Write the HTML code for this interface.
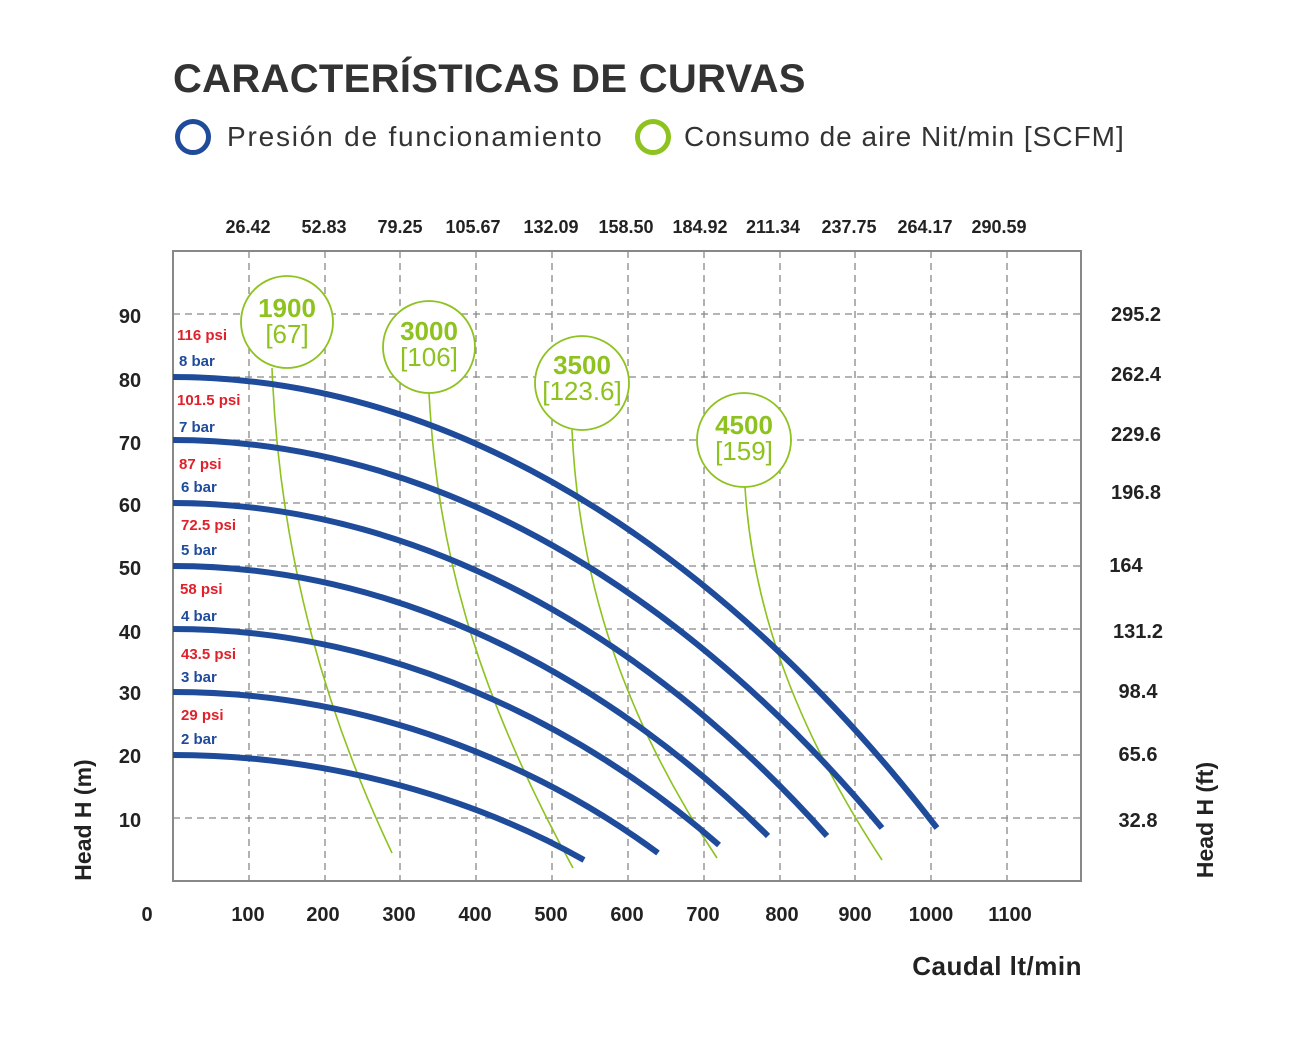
<!DOCTYPE html>
<html><head><meta charset="utf-8"><style>
html,body{margin:0;padding:0;background:#fff;}
svg{display:block;font-family:"Liberation Sans",Arial,sans-serif;}
</style></head><body>
<svg width="1291" height="1039" viewBox="0 0 1291 1039" xmlns="http://www.w3.org/2000/svg">
<text x="173" y="92" font-size="40" font-weight="bold" fill="#333" letter-spacing="0.3">CARACTERÍSTICAS DE CURVAS</text>
<circle cx="193" cy="137" r="15.5" fill="none" stroke="#1f4b9b" stroke-width="5"/>
<text x="227" y="146" font-size="28" fill="#333" letter-spacing="1.8">Presión de funcionamiento</text>
<circle cx="653" cy="137" r="15.5" fill="none" stroke="#8dc21f" stroke-width="5"/>
<text x="684" y="146" font-size="28" fill="#333" letter-spacing="1">Consumo de aire Nit/min [SCFM]</text>

<g font-size="18" font-weight="bold" fill="#222" text-anchor="middle">
<text x="248" y="233">26.42</text><text x="324" y="233">52.83</text><text x="400" y="233">79.25</text>
<text x="473" y="233">105.67</text><text x="551" y="233">132.09</text><text x="626" y="233">158.50</text>
<text x="700" y="233">184.92</text><text x="773" y="233">211.34</text><text x="849" y="233">237.75</text>
<text x="925" y="233">264.17</text><text x="999" y="233">290.59</text>
</g>

<g stroke="#888" stroke-width="1.3" stroke-dasharray="7,5" fill="none">
<path d="M249 251V881M325 251V881M400 251V881M476 251V881M552 251V881M628 251V881M704 251V881M780 251V881M855 251V881M931 251V881M1007 251V881"/>
<path d="M173 314H1081M173 377H1081M173 440H1081M173 503H1081M173 566H1081M173 629H1081M173 692H1081M173 755H1081M173 818H1081"/>
</g>
<rect x="173" y="251" width="908" height="630" fill="none" stroke="#888" stroke-width="2"/>

<g font-size="20" font-weight="bold" fill="#222" text-anchor="middle">
<text x="130" y="323">90</text><text x="130" y="387">80</text><text x="130" y="450">70</text>
<text x="130" y="512">60</text><text x="130" y="575">50</text><text x="130" y="639">40</text>
<text x="130" y="700">30</text><text x="130" y="763">20</text><text x="130" y="827">10</text>
<text x="1136" y="321">295.2</text><text x="1136" y="381">262.4</text><text x="1136" y="441">229.6</text>
<text x="1136" y="499">196.8</text><text x="1126" y="572">164</text><text x="1138" y="638">131.2</text>
<text x="1138" y="698">98.4</text><text x="1138" y="761">65.6</text><text x="1138" y="827">32.8</text>
<text x="147" y="921">0</text><text x="248" y="921">100</text><text x="323" y="921">200</text>
<text x="399" y="921">300</text><text x="475" y="921">400</text><text x="551" y="921">500</text>
<text x="627" y="921">600</text><text x="703" y="921">700</text><text x="782" y="921">800</text>
<text x="855" y="921">900</text><text x="931" y="921">1000</text><text x="1010" y="921">1100</text>
</g>
<text x="1082" y="975" font-size="26" font-weight="bold" fill="#222" text-anchor="end" letter-spacing="0.5">Caudal lt/min</text>
<text transform="translate(91,820) rotate(-90)" font-size="23" font-weight="bold" fill="#222" text-anchor="middle">Head H (m)</text>
<text transform="translate(1213,820) rotate(-90)" font-size="23" font-weight="bold" fill="#222" text-anchor="middle">Head H (ft)</text>

<g font-size="15" font-weight="bold">
<text x="177" y="340" fill="#e0202a">116 psi</text><text x="179" y="366" fill="#1f4b9b">8 bar</text>
<text x="177" y="405" fill="#e0202a">101.5 psi</text><text x="179" y="432" fill="#1f4b9b">7 bar</text>
<text x="179" y="469" fill="#e0202a">87 psi</text><text x="181" y="492" fill="#1f4b9b">6 bar</text>
<text x="181" y="530" fill="#e0202a">72.5 psi</text><text x="181" y="555" fill="#1f4b9b">5 bar</text>
<text x="180" y="594" fill="#e0202a">58 psi</text><text x="181" y="621" fill="#1f4b9b">4 bar</text>
<text x="181" y="659" fill="#e0202a">43.5 psi</text><text x="181" y="682" fill="#1f4b9b">3 bar</text>
<text x="181" y="720" fill="#e0202a">29 psi</text><text x="181" y="744" fill="#1f4b9b">2 bar</text>
</g>

<g fill="none" stroke="#8dc21f" stroke-width="1.6">
<path d="M272 368C278 520 310 680 392 853"/>
<path d="M429 393C437 540 470 680 573 868"/>
<path d="M572 430C578 560 612 700 717 858"/>
<path d="M745 487C752 600 790 720 882 860"/>
</g>

<g fill="none" stroke="#1f4b9b" stroke-width="6">
<path d="M173 755C337 755 481 802 584 860"/>
<path d="M173 692C367 692 537 764 658 853"/>
<path d="M173 629C391 629 583 726 719 845"/>
<path d="M173 566C411 566 619 688 768 836"/>
<path d="M173 503C435 503 664 653 827 836"/>
<path d="M173 440C457 440 705 615 882 828"/>
<path d="M173 377C479 377 746 580 937 828"/>
</g>

<g fill="#fff" stroke="#8dc21f" stroke-width="1.8">
<circle cx="287" cy="322" r="46"/>
<circle cx="429" cy="347" r="46"/>
<circle cx="582" cy="383" r="47"/>
<circle cx="744" cy="440" r="47"/>
</g>
<g fill="#8dc21f" text-anchor="middle">
<text x="287" y="317" font-size="26" font-weight="bold">1900</text><text x="287" y="343" font-size="26">[67]</text>
<text x="429" y="340" font-size="26" font-weight="bold">3000</text><text x="429" y="366" font-size="26">[106]</text>
<text x="582" y="374" font-size="26" font-weight="bold">3500</text><text x="582" y="400" font-size="26">[123.6]</text>
<text x="744" y="434" font-size="26" font-weight="bold">4500</text><text x="744" y="460" font-size="26">[159]</text>
</g>
</svg>
</body></html>
